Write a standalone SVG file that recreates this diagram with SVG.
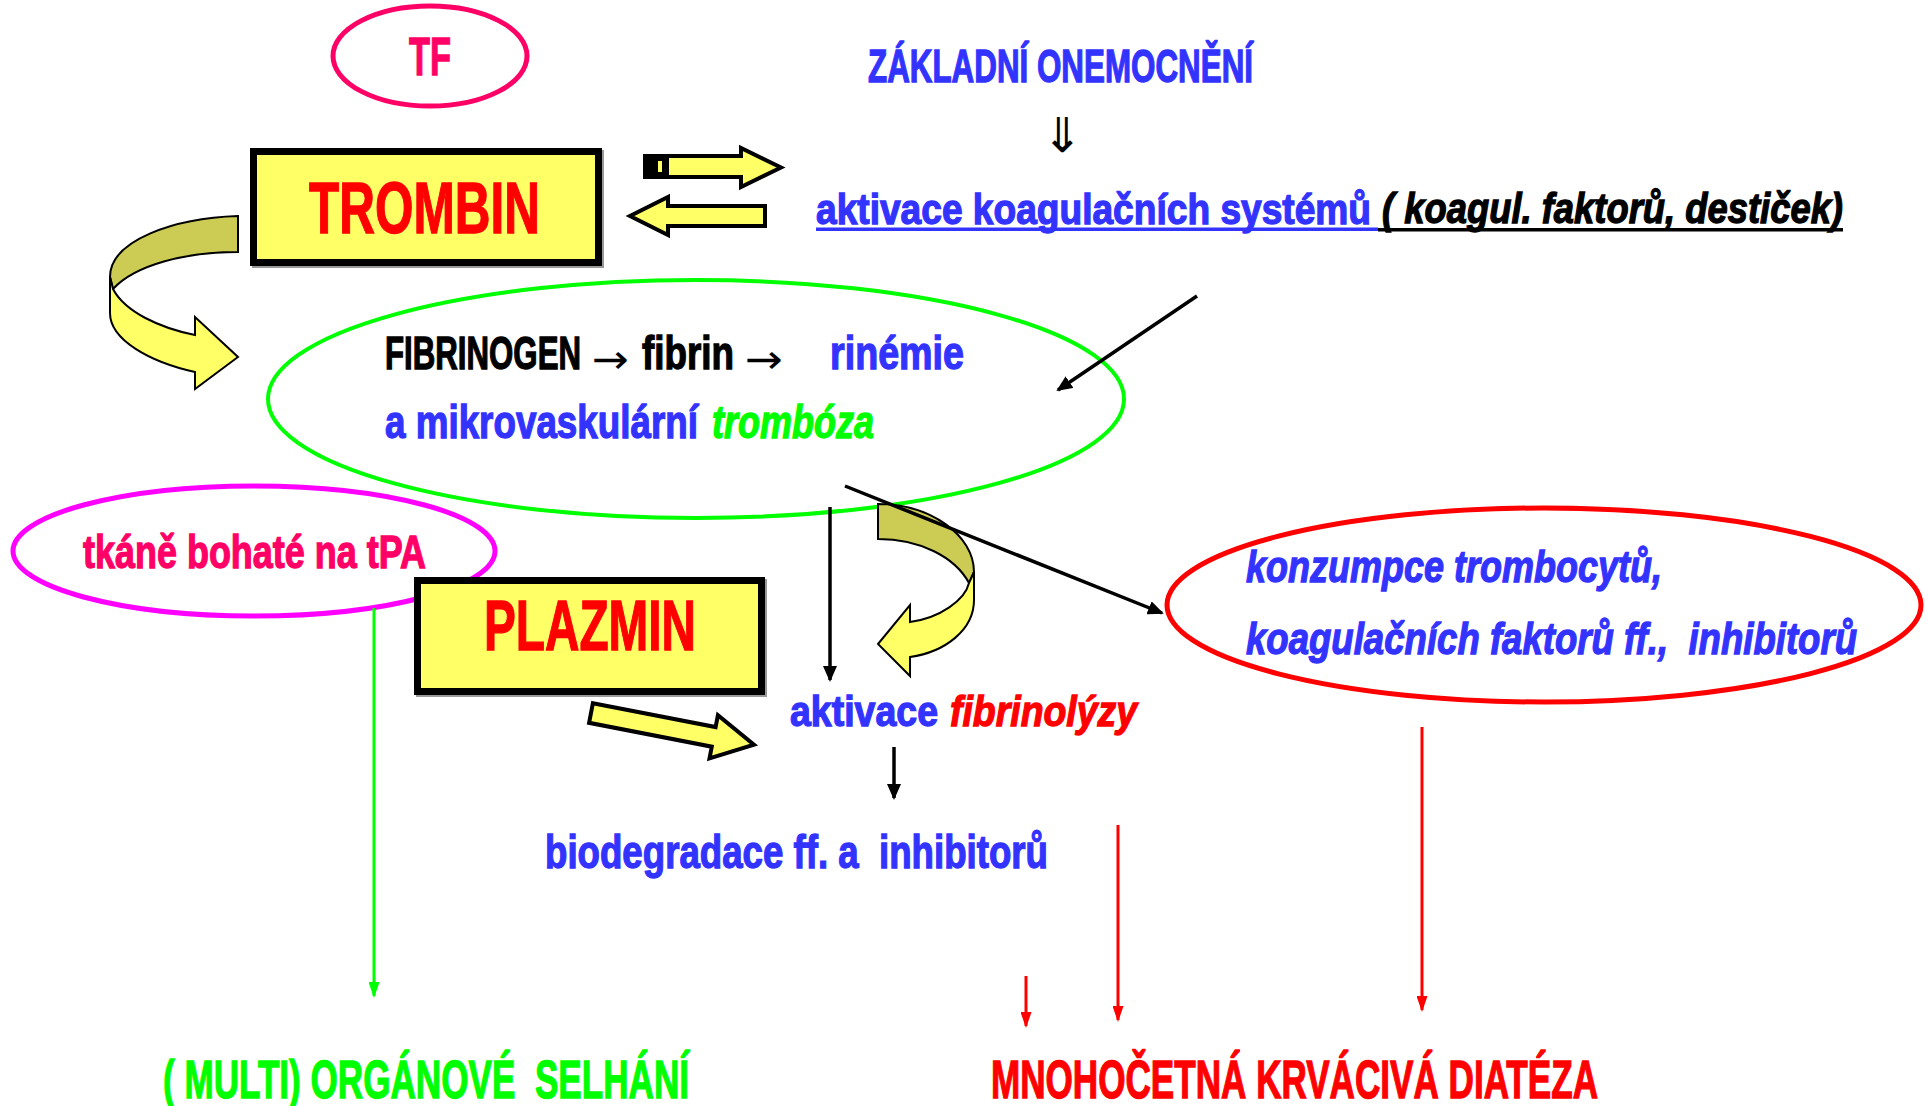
<svg xmlns="http://www.w3.org/2000/svg" width="1925" height="1106" viewBox="0 0 1925 1106">
<style>
.t{font-family:"Liberation Sans",Arial,sans-serif;font-weight:bold}
.i{font-style:italic}
.blue{fill:#3333FF;stroke:#3333FF;stroke-width:1.3}
.red{fill:#FF0000;stroke:#FF0000;stroke-width:1.3}
.pink{fill:#FF0066;stroke:#FF0066;stroke-width:1.3}
.green{fill:#00FF00;stroke:#00FF00;stroke-width:1.3}
.black{fill:#000;stroke:#000;stroke-width:1.3}
.box{fill:#FFFF66;stroke:#000;stroke-width:7}
.shadow{fill:#999}
.ell{fill:none}
.yarrow{fill:#FFFF66;stroke:#000;stroke-width:4;stroke-linejoin:miter}
.curveD{fill:#CCCC55;stroke:#000;stroke-width:2}
.curveL{fill:#FFFF66;stroke:#000;stroke-width:2}
.ln{fill:none;stroke:#000;stroke-width:3.5}
.lnr{fill:none;stroke:#FF0000;stroke-width:3}
.lng{fill:none;stroke:#00FF00;stroke-width:3}
.sym{font-family:"DejaVu Sans",sans-serif;font-weight:normal;fill:#000}
</style>
<defs>
<marker id="ab" markerUnits="userSpaceOnUse" markerWidth="16" markerHeight="14" refX="14" refY="7" orient="auto"><path d="M0,0 L16,7 L0,14 Z" fill="#000"/></marker>
<marker id="ar" markerUnits="userSpaceOnUse" markerWidth="16" markerHeight="11" refX="14" refY="5.5" orient="auto"><path d="M0,0 L16,5.5 L0,11 Z" fill="#FF0000"/></marker>
<marker id="ag" markerUnits="userSpaceOnUse" markerWidth="16" markerHeight="11" refX="14" refY="5.5" orient="auto"><path d="M0,0 L16,5.5 L0,11 Z" fill="#00FF00"/></marker>
</defs>
<rect width="1925" height="1106" fill="#fff"/>

<g id="fibrin-ellipse">
<ellipse class="ell" cx="696" cy="399" rx="428" ry="119" stroke="#00FF00" stroke-width="4"/>
<text class="t black" x="385" y="369" font-size="47" textLength="196" lengthAdjust="spacingAndGlyphs">FIBRINOGEN</text>
<text class="sym" x="592" y="373" font-size="40" textLength="37" lengthAdjust="spacingAndGlyphs">→</text>
<text class="t black" x="642" y="369" font-size="47" textLength="92" lengthAdjust="spacingAndGlyphs">fibrin</text>
<text class="sym" x="745" y="373" font-size="40" textLength="38" lengthAdjust="spacingAndGlyphs">→</text>
<text class="t blue" x="830" y="369" font-size="47" textLength="134" lengthAdjust="spacingAndGlyphs">rinémie</text>
<text class="t blue" x="385" y="438" font-size="46" textLength="313" lengthAdjust="spacingAndGlyphs">a mikrovaskulární</text>
<text class="t i green" x="712" y="438" font-size="46" textLength="162" lengthAdjust="spacingAndGlyphs">trombóza</text>
</g>

<g id="tpa">
<ellipse class="ell" cx="254" cy="551" rx="241" ry="65" stroke="#FF00FF" stroke-width="5"/>
<text class="t pink" x="83" y="568" font-size="46" textLength="343" lengthAdjust="spacingAndGlyphs">tkáně bohaté na tPA</text>
</g>

<g id="konzumpce">
<ellipse class="ell" cx="1544" cy="605" rx="377" ry="97" stroke="#FF0000" stroke-width="5"/>
<text class="t i blue" x="1246" y="582" font-size="45" textLength="416" lengthAdjust="spacingAndGlyphs">konzumpce trombocytů,</text>
<text class="t i blue" x="1246" y="654" font-size="45" textLength="611" lengthAdjust="spacingAndGlyphs">koagulačních faktorů ff., &#160;inhibitorů</text>
</g>

<g id="tf">
<ellipse class="ell" cx="430" cy="56" rx="97" ry="50" stroke="#FF0066" stroke-width="5"/>
<text class="t pink" x="409" y="75" font-size="54" textLength="42" lengthAdjust="spacingAndGlyphs">TF</text>
</g>

<g id="trombin">
<rect class="shadow" x="252" y="150" width="352" height="118"/>
<rect class="box" x="253.5" y="151.5" width="345" height="111"/>
<text class="t red" x="309" y="233" font-size="73" textLength="231" lengthAdjust="spacingAndGlyphs">TROMBIN</text>
</g>

<g id="plazmin">
<rect class="shadow" x="416" y="579" width="351" height="118"/>
<rect class="box" x="417.5" y="580.5" width="344" height="111"/>
<text class="t red" x="484" y="650" font-size="70" textLength="212" lengthAdjust="spacingAndGlyphs">PLAZMIN</text>
</g>

<g id="zakladni">
<text class="t blue" x="868" y="82" font-size="46" textLength="385" lengthAdjust="spacingAndGlyphs">ZÁKLADNÍ ONEMOCNĚNÍ</text>
<text x="1062" y="152" font-size="48" text-anchor="middle" font-family="DejaVu Sans,sans-serif" fill="#000">⇓</text>
</g>

<g id="aktivace-koag">
<text class="t blue" x="816" y="224" font-size="43" textLength="555" lengthAdjust="spacingAndGlyphs">aktivace koagulačních systémů</text>
<rect x="816" y="227.5" width="562" height="3.5" fill="#3333FF"/>
<text class="t i black" x="1382" y="223" font-size="43" textLength="461" lengthAdjust="spacingAndGlyphs">( koagul. faktorů, destiček)</text>
<rect x="1378" y="228" width="465" height="3.5" fill="#000"/>
</g>

<g id="aktivace-fibrinolyzy">
<text class="t blue" x="790" y="726" font-size="43" textLength="148" lengthAdjust="spacingAndGlyphs">aktivace</text>
<text class="t i red" x="950" y="726" font-size="43" textLength="187" lengthAdjust="spacingAndGlyphs">fibrinolýzy</text>
</g>

<g id="biodegradace">
<text class="t blue" x="545" y="868" font-size="46" textLength="503" lengthAdjust="spacingAndGlyphs">biodegradace ff. a &#160;inhibitorů</text>
</g>

<g id="selhani">
<text class="t green" x="163" y="1098" font-size="53" textLength="526" lengthAdjust="spacingAndGlyphs">( MULTI) ORGÁNOVÉ &#160;SELHÁNÍ</text>
</g>

<g id="diateza">
<text class="t red" x="991" y="1098" font-size="53" textLength="607" lengthAdjust="spacingAndGlyphs">MNOHOČETNÁ KRVÁCIVÁ DIATÉZA</text>
</g>

<g id="connectors">
<polygon class="yarrow" points="645,156 741,156 741,148 781,167.5 741,187 741,177 645,177"/>
<rect x="645" y="156" width="24" height="21" fill="#000"/>
<rect x="658" y="161" width="4" height="11" fill="#FFFF66"/>
<polygon class="yarrow" points="765,206 668,206 668,197 630,216 668,235 668,226 765,226"/>
<path class="curveD" d="M238,216 C175,218 110,240 110,277 L113,289 C135,265 185,252 238,252 Z"/>
<path class="curveL" d="M110,277 L110,313 C110,340 150,362 195,372 L195,389 L238,357 L195,317 L195,335 C160,328 125,312 113,289 Z"/>
<path class="curveD" d="M878,504 C930,504 974,535 974,572 L969,583 C955,557 920,539 878,539 Z"/>
<path class="curveL" d="M974,572 L974,600 C974,630 945,652 910,657 L910,676 L878,644 L910,605 L910,622 C940,618 965,600 969,583 Z"/>
<polygon class="yarrow" transform="translate(591,713) rotate(11)" points="0,-10 125,-10 125,-22 166,0 125,22 125,10 0,10"/>
<line class="ln" x1="1197" y1="296" x2="1058" y2="390" marker-end="url(#ab)"/>
<line class="ln" x1="845" y1="486" x2="1162" y2="613" marker-end="url(#ab)"/>
<line class="ln" x1="830" y1="507" x2="830" y2="680" marker-end="url(#ab)"/>
<line class="ln" x1="894" y1="747" x2="894" y2="798" marker-end="url(#ab)"/>
<line class="lng" x1="374" y1="608" x2="374" y2="996" marker-end="url(#ag)"/>
<line class="lnr" x1="1026" y1="976" x2="1026" y2="1026" marker-end="url(#ar)"/>
<line class="lnr" x1="1118" y1="825" x2="1118" y2="1020" marker-end="url(#ar)"/>
<line class="lnr" x1="1422" y1="727" x2="1422" y2="1010" marker-end="url(#ar)"/>
</g>
</svg>
